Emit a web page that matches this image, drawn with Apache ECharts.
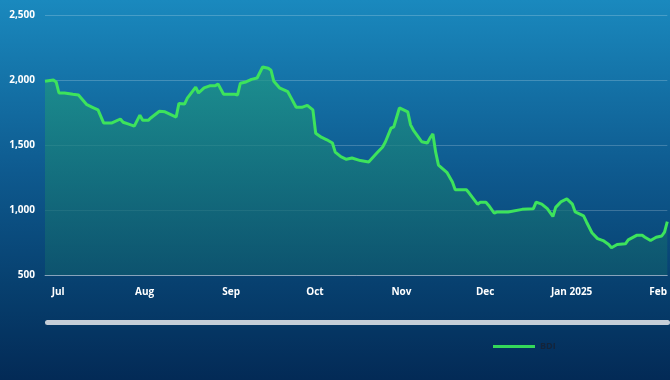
<!DOCTYPE html>
<html>
<head>
<meta charset="utf-8">
<script src="https://cdn.jsdelivr.net/npm/echarts@6/dist/echarts.min.js"></script>
<style>
html,body{margin:0;padding:0;}
#c{width:670px;height:380px;}
</style>
</head>
<body>
<div id="c"></div>
<script>
// BDI daily values
var dates = [
'2024-06-27','2024-06-30','2024-07-01','2024-07-02','2024-07-04','2024-07-07','2024-07-09','2024-07-10','2024-07-12','2024-07-14',
'2024-07-16','2024-07-18','2024-07-19','2024-07-21','2024-07-24','2024-07-25','2024-07-27','2024-07-29','2024-07-31','2024-08-01',
'2024-08-03','2024-08-04','2024-08-07','2024-08-09','2024-08-13','2024-08-14','2024-08-16','2024-08-17','2024-08-20','2024-08-21',
'2024-08-23','2024-08-25','2024-08-27','2024-08-28','2024-08-30','2024-09-03','2024-09-04','2024-09-05','2024-09-07','2024-09-09',
'2024-09-11','2024-09-13','2024-09-15','2024-09-16','2024-09-17','2024-09-19','2024-09-22','2024-09-23','2024-09-25','2024-09-27',
'2024-09-29','2024-10-01','2024-10-02','2024-10-04','2024-10-06','2024-10-08','2024-10-09','2024-10-11','2024-10-13','2024-10-15',
'2024-10-18','2024-10-21','2024-10-24','2024-10-26','2024-10-27','2024-10-29','2024-10-30','2024-11-01','2024-11-04','2024-11-05',
'2024-11-06','2024-11-08','2024-11-09','2024-11-11','2024-11-12','2024-11-13','2024-11-14','2024-11-15','2024-11-18','2024-11-20',
'2024-11-21','2024-11-24','2024-11-25','2024-11-26','2024-11-29','2024-11-30','2024-12-02','2024-12-03','2024-12-05','2024-12-06',
'2024-12-09','2024-12-10','2024-12-15','2024-12-19','2024-12-20','2024-12-22','2024-12-24','2024-12-26','2024-12-27','2024-12-29',
'2024-12-31','2025-01-02','2025-01-03','2025-01-06','2025-01-07','2025-01-09','2025-01-11','2025-01-13','2025-01-15','2025-01-16',
'2025-01-18','2025-01-21','2025-01-22','2025-01-25','2025-01-27','2025-01-28','2025-01-30','2025-02-01','2025-02-03','2025-02-04',
'2025-02-05'
];
var bdi = [
1990,2000,1985,1900,1900,1890,1885,1860,1810,1790,
1770,1670,1670,1670,1700,1675,1660,1645,1730,1690,
1690,1710,1760,1755,1715,1820,1815,1860,1945,1900,
1940,1955,1955,1970,1890,1890,1885,1975,1985,2005,
2015,2100,2090,2075,1990,1940,1910,1870,1790,1790,
1805,1770,1590,1560,1540,1515,1445,1410,1390,1400,
1380,1370,1440,1485,1525,1630,1640,1785,1755,1655,
1615,1555,1525,1515,1555,1585,1445,1345,1290,1215,
1155,1155,1155,1130,1045,1060,1060,1035,975,985,
985,985,1005,1010,1060,1045,1010,950,1020,1065,
1085,1045,985,955,910,825,780,765,735,710,
735,740,770,805,805,790,765,790,800,830,
910
];
var monthTicks = ['2024-07-01','2024-08-01','2024-09-01','2024-10-01','2024-11-01','2024-12-01','2025-01-01','2025-02-01'];
var monthLabels = ['Jul','Aug','Sep','Oct','Nov','Dec','Jan 2025','Feb'];
var yTicks = [500, 1000, 1500, 2000, 2500];

function ts(d){ return Date.parse(d + 'T00:00:00Z'); }
var tickTimes = monthTicks.map(ts);
var seriesData = dates.map(function(d, i){ return [ts(d), bdi[i]]; });

var chart = echarts.init(document.getElementById('c'), null, {renderer:'canvas'});
chart.setOption({
  animation: false,
  backgroundColor: new echarts.graphic.LinearGradient(0, 0, 0, 1, [
    {offset: 0, color: '#1a89be'},
    {offset: 0.45, color: '#0e5a8f'},
    {offset: 0.75, color: '#07406f'},
    {offset: 1, color: '#032a56'}
  ]),
  grid: {left: 45, right: 0, top: 15, bottom: 105, containLabel: false},
  xAxis: {
    type: 'value',
    min: ts('2024-06-27'),
    max: ts('2025-02-05'),
    axisLine: {show: true, lineStyle: {color: 'rgba(255,255,255,0.4)', width: 1}},
    axisTick: {show: false},
    splitLine: {show: false},
    axisLabel: {
      customValues: tickTimes,
      color: '#ffffff',
      fontFamily: 'Open Sans',
      fontWeight: 'bold',
      fontSize: 10,
      margin: 12,
      padding: [0, 0, 0, 4],
      showMinLabel: true,
      showMaxLabel: true,
      formatter: function(v){
        var i = tickTimes.indexOf(v);
        return i >= 0 ? monthLabels[i] : '';
      }
    }
  },
  yAxis: {
    type: 'value',
    min: yTicks[0],
    max: yTicks[yTicks.length - 1],
    interval: 500,
    axisLine: {show: false},
    axisTick: {show: false},
    splitLine: {lineStyle: {color: 'rgba(255,255,255,0.2)', width: 1}},
    axisLabel: {
      color: '#ffffff',
      fontFamily: 'Open Sans',
      fontWeight: 'bold',
      fontSize: 10,
      margin: 10,
      formatter: function(v){ return v.toLocaleString('en-US'); }
    }
  },
  legend: {
    left: 488, top: 337,
    itemWidth: 42, itemHeight: 3, itemGap: 5,
    icon: 'rect',
    textStyle: {color: '#14243a', fontSize: 9, fontWeight: 'bold', fontFamily: 'Open Sans'},
    data: [{name: 'BDI', itemStyle: {color: '#34d85a'}}]
  },
  graphic: [{
    type: 'rect',
    left: 45, top: 320,
    shape: {width: 625, height: 5, r: 2.5},
    style: {fill: '#c5ced8'}
  }],
  series: [{
    name: 'BDI',
    type: 'line',
    data: seriesData,
    showSymbol: false,
    smooth: false,
    lineStyle: {color: '#3de35c', width: 3},
    itemStyle: {color: '#3de35c'},
    areaStyle: {
      color: new echarts.graphic.LinearGradient(0, 0, 0, 1, [
        {offset: 0, color: '#1f9a84'},
        {offset: 1, color: '#0f5a6d'}
      ])
    }
  }]
});
</script>
</body>
</html>
